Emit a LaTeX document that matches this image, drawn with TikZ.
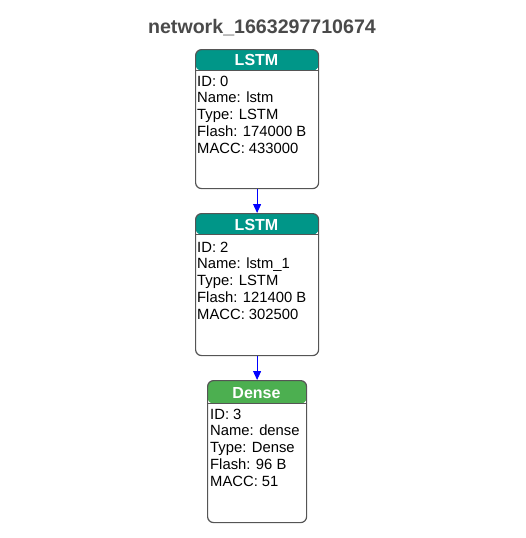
\documentclass[tikz,border=0pt]{standalone}
\usepackage{fontspec}
\setmainfont{Liberation Sans}
\usetikzlibrary{arrows.meta}
\definecolor{teal1}{HTML}{009688}
\definecolor{green1}{HTML}{4CAF50}
\definecolor{bord}{HTML}{555555}
\definecolor{titlec}{HTML}{4A4A4A}
\tikzset{
  layerbox/.style={draw=bord, line width=1.2pt, rounded corners=6pt, fill=white, rectangle, inner sep=0pt, anchor=north west},
  tealhdr/.style={path picture={\fill[teal1] (path picture bounding box.north west) rectangle ([yshift=-21pt]path picture bounding box.north east);
     \draw[bord, line width=0.8pt] ([yshift=-21pt]path picture bounding box.north west) -- ([yshift=-21pt]path picture bounding box.north east);}},
  greenhdr/.style={path picture={\fill[green1] (path picture bounding box.north west) rectangle ([yshift=-23pt]path picture bounding box.north east);
     \draw[bord, line width=0.8pt] ([yshift=-23pt]path picture bounding box.north west) -- ([yshift=-23pt]path picture bounding box.north east);}},
  hdrtext/.style={text=white, font=\fontsize{16}{18}\selectfont\bfseries, anchor=center, inner sep=0pt},
  bodytext/.style={anchor=north west, align=left, inner sep=0pt, font=\fontsize{14.8}{16.8}\selectfont, text=black},
  flow/.style={draw=blue, line width=0.9pt, -{Triangle[length=9pt,width=8pt]}},
  titletext/.style={text=titlec, font=\fontsize{19.6}{22}\selectfont\bfseries, anchor=center}
}
\begin{document}
\begin{tikzpicture}[x=1pt,y=-1pt]
\useasboundingbox (0,0) rectangle (525,538);
\node[titletext] (title) at (262,28) {network\_1663297710674};

\node[layerbox, tealhdr, minimum width=123pt, minimum height=139pt] (l0) at (195,49) {};
\node[hdrtext] (h0) at (256.5,60) {LSTM};
\node[bodytext] (b0) at (197,75.5) {ID: 0\\Name: lstm\\Type: LSTM\\Flash: 174000 B\\MACC: 433000};

\node[layerbox, tealhdr, minimum width=123pt, minimum height=142pt] (l2) at (195,213) {};
\node[hdrtext] (h2) at (256.5,225) {LSTM};
\node[bodytext] (b2) at (197,241.5) {ID: 2\\Name: lstm\_1\\Type: LSTM\\Flash: 121400 B\\MACC: 302500};

\node[layerbox, greenhdr, minimum width=99pt, minimum height=142pt] (l3) at (207,380) {};
\node[hdrtext] (h3) at (256.5,393) {Dense};
\node[bodytext] (b3) at (210,408.5) {ID: 3\\Name: dense\\Type: Dense\\Flash: 96 B\\MACC: 51};

\draw[flow] (l0.south) -- (l2.north);
\draw[flow] (l2.south) -- (l3.north);
\end{tikzpicture}
\end{document}
